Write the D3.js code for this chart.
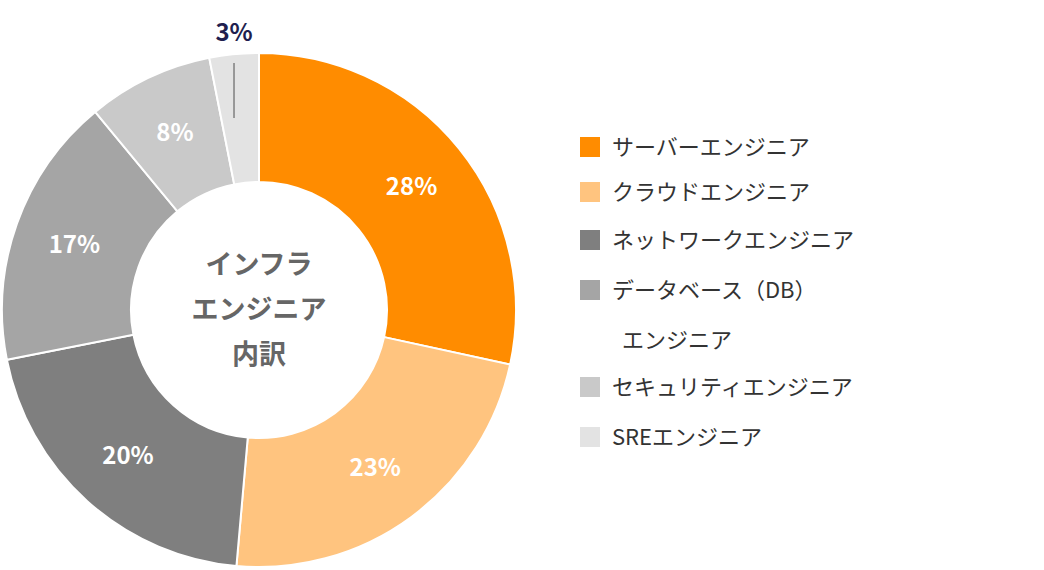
<!DOCTYPE html>
<html><head><meta charset="utf-8">
<script src="https://cdn.jsdelivr.net/npm/d3@7"></script>
<style>body{margin:0;background:#fff;font-family:"Noto Sans CJK JP","Noto Sans",sans-serif;}</style>
</head><body><div id="chart"></div>
<script>
var categories = ["サーバーエンジニア", "クラウドエンジニア", "ネットワークエンジニア", "データベース（DB）\nエンジニア", "セキュリティエンジニア", "SREエンジニア"];
var values = [28.4, 23.0, 20.5, 17.1, 7.9, 3.1];
var labels = ["28%", "23%", "20%", "17%", "8%", "3%"];
var colors = ["#ff8c00", "#ffc47f", "#7f7f7f", "#a5a5a5", "#c9c9c9", "#e3e3e3"];
var centerLines = ["インフラ", "エンジニア", "内訳"];

var w = 1044, h = 570, cx = 259, cy = 310, R = 257, r = 128;
var svg = d3.select("#chart").append("svg").attr("width", w).attr("height", h);
var g = svg.append("g").attr("transform", "translate(" + cx + "," + cy + ")");

var pie = d3.pie().sort(null).value(function(d){ return d; });
var arcs = pie(values);
var arc = d3.arc().innerRadius(r).outerRadius(R);
var labelArc = d3.arc().innerRadius(196).outerRadius(196);

g.selectAll("path").data(arcs).enter().append("path")
  .attr("d", arc).attr("fill", function(d, i){ return colors[i]; })
  .attr("stroke", "#fff").attr("stroke-width", 2);

g.selectAll("text.lab").data(arcs).enter().append("text")
  .filter(function(d, i){ return i < 5; })
  .attr("class", "lab")
  .attr("transform", function(d){ return "translate(" + labelArc.centroid(d) + ")"; })
  .attr("text-anchor", "middle").attr("dy", "0.35em")
  .attr("fill", "#fff").attr("font-weight", "bold").attr("font-size", 24)
  .text(function(d, i){ return labels[i]; });

// small slice label outside with leader
var last = arcs[5];
var mid = (last.startAngle + last.endAngle) / 2;
var lx = Math.sin(mid) * R;
g.append("line").attr("x1", lx).attr("x2", lx).attr("y1", -R + 10).attr("y2", -192)
  .attr("stroke", "#7f7f7f").attr("stroke-width", 1.5);
g.append("text").attr("x", lx).attr("y", -R - 20).attr("text-anchor", "middle")
  .attr("dy", "0.35em").attr("fill", "#1f1f4f").attr("font-weight", "bold").attr("font-size", 24)
  .text(labels[5]);

g.selectAll("text.center").data(centerLines).enter().append("text")
  .attr("class", "center").attr("text-anchor", "middle")
  .attr("y", function(d, i){ return (i - 1) * 45; }).attr("dy", "0.35em")
  .attr("fill", "#666").attr("font-weight", "bold").attr("font-size", 27)
  .text(function(d){ return d; });

// legend
var rows = [147, 192, 240, 290, 387, 437];
var leg = svg.append("g");
categories.forEach(function(c, i){
  leg.append("rect").attr("x", 580).attr("y", rows[i] - 10).attr("width", 20).attr("height", 20).attr("fill", colors[i]);
  c.split("\n").forEach(function(t, j){
    leg.append("text").attr("x", j ? 622 : 612).attr("y", rows[i] + j * 50).attr("dy", "0.35em")
      .attr("fill", "#333").attr("font-size", 22).text(t);
  });
});
</script></body></html>
